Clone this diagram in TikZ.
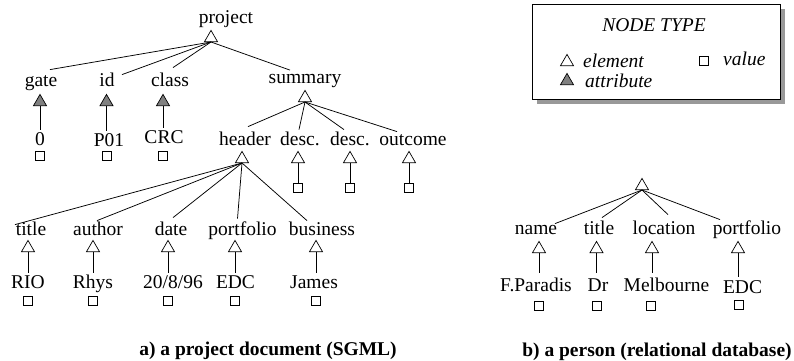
\documentclass[tikz,border=0pt]{standalone}
\usepackage{fontspec}
\setmainfont{Liberation Serif}
\usetikzlibrary{shapes.geometric,shadows}
\newcommand\fsz{\fontsize{19.5}{22}\selectfont}
\begin{document}
\begin{tikzpicture}[x=1pt,y=-1pt,
  every node/.style={font=\fsz},
  lbl/.style={anchor=base, inner sep=1.5pt, text height=13.7pt, text depth=4pt},
  itl/.style={anchor=base west, inner sep=0pt, font=\fsz\itshape},
  tri/.style={regular polygon, regular polygon sides=3, draw, minimum size=15pt, inner sep=0pt, anchor=south, line width=0.7pt},
  eltri/.style={tri, fill=white},
  attri/.style={tri, fill=black!50},
  valsq/.style={draw, rectangle, minimum size=9pt, inner sep=0pt, line width=0.7pt},
  edge/.style={line width=0.75pt},
  captxt/.style={anchor=base, inner sep=0pt, font=\fsz\bfseries},
]
\useasboundingbox (0,0) rectangle (794,360);

% ---------------- a) project document ----------------
\node[lbl] (project) at (226,23) {project};
\node[eltri] (tproject) at (211,42) {};

\node[lbl] (gate) at (41,86) {gate};
\node[attri] (tgate) at (40,106) {};
\node[lbl] (vgate) at (40,145) {0};
\node[valsq] (sgate) at (40,156) {};

\node[lbl] (id) at (107,86) {id};
\node[attri] (tid) at (106.5,106) {};
\node[lbl] (vid) at (109,146) {P01};
\node[valsq] (sid) at (107,156) {};

\node[lbl] (class) at (170,86) {class};
\node[attri] (tclass) at (163,106) {};
\node[lbl] (vclass) at (164,143.5) {CRC};
\node[valsq] (sclass) at (163,156) {};

\node[lbl] (summary) at (305,83.5) {summary};
\node[eltri] (tsummary) at (305,102) {};

\node[lbl] (header) at (245,145) {header};
\node[eltri] (theader) at (242,163) {};
\node[lbl] (desca) at (300,145) {desc.};
\node[eltri] (tdesca) at (298,163) {};
\node[valsq] (sdesca) at (298,188) {};
\node[lbl] (descb) at (350,145) {desc.};
\node[eltri] (tdescb) at (350,163) {};
\node[valsq] (sdescb) at (350,188) {};
\node[lbl] (outcome) at (413,145) {outcome};
\node[eltri] (toutcome) at (409,163) {};
\node[valsq] (soutcome) at (409,188) {};

\node[lbl] (title) at (31,235) {title};
\node[eltri] (ttitle) at (28,252) {};
\node[lbl] (vtitle) at (28,288) {RIO};
\node[valsq] (stitle) at (28,301) {};

\node[lbl] (author) at (98,235) {author};
\node[eltri] (tauthor) at (93,252) {};
\node[lbl] (vauthor) at (93,288) {Rhys};
\node[valsq] (sauthor) at (93,301) {};

\node[lbl] (date) at (171,235) {date};
\node[eltri] (tdate) at (168,252) {};
\node[lbl] (vdate) at (173,288) {20/8/96};
\node[valsq] (sdate) at (168,301) {};

\node[lbl] (portfolio) at (242.5,235) {portfolio};
\node[eltri] (tportfolio) at (235,252) {};
\node[lbl] (vportfolio) at (235.5,288) {EDC};
\node[valsq] (sportfolio) at (235,301) {};

\node[lbl] (business) at (322,235) {business};
\node[eltri] (tbusiness) at (316,252) {};
\node[lbl] (vbusiness) at (314,288) {James};
\node[valsq] (sbusiness) at (316,301) {};

% edges a)
\draw[edge] (tproject.south) -- ([xshift=9pt,yshift=1pt]gate.north);
\draw[edge] (tproject.south) -- ([xshift=15pt,yshift=-4pt]id.north);
\draw[edge] (tproject.south) -- ([xshift=3pt,yshift=3pt]class.north);
\draw[edge] (tproject.south) -- ([xshift=-15pt,yshift=-2pt]summary.north);

\draw[edge] (tgate.south) -- (tgate.south |- vgate.north);
\draw[edge] (tid.south) -- (tid.south |- vid.north);
\draw[edge] (tclass.south) -- (tclass.south |- vclass.north);

\draw[edge] (tsummary.south) -- ([xshift=3pt,yshift=3pt]header.north);
\draw[edge] (tsummary.south) -- ([xshift=-1pt]desca.north);
\draw[edge] (tsummary.south) -- ([xshift=-6pt]descb.north);
\draw[edge] (tsummary.south) -- ([xshift=-16pt,yshift=-2pt]outcome.north);

\draw[edge] (tdesca.south) -- (sdesca.north);
\draw[edge] (tdescb.south) -- (sdescb.north);
\draw[edge] (toutcome.south) -- (soutcome.north);

\draw[edge] (theader.south) -- ([xshift=-16pt,yshift=-5pt]title.north);
\draw[edge] (theader.south) -- ([xshift=-1pt,yshift=-1pt]author.north);
\draw[edge] (theader.south) -- ([xshift=2pt,yshift=2pt]date.north);
\draw[edge] (theader.south) -- ([xshift=-5pt,yshift=1pt]portfolio.north);
\draw[edge] (theader.south) -- ([xshift=-15pt,yshift=-1pt]business.north);

\draw[edge] (ttitle.south) -- (ttitle.south |- vtitle.north);
\draw[edge] (tauthor.south) -- (tauthor.south |- vauthor.north);
\draw[edge] (tdate.south) -- (tdate.south |- vdate.north);
\draw[edge] (tportfolio.south) -- (tportfolio.south |- vportfolio.north);
\draw[edge] (tbusiness.south) -- (tbusiness.south |- vbusiness.north);

\node[captxt] (capa) at (268,355) {a) a project document (SGML)};

% ---------------- b) person ----------------
\node[eltri] (troot) at (642,190) {};

\node[lbl] (name) at (536,234) {name};
\node[eltri] (tname) at (539,253) {};
\node[lbl] (vname) at (536,291) {F.Paradis};
\node[valsq] (sname) at (539,306) {};

\node[lbl] (ptitle) at (599,234) {title};
\node[eltri] (tptitle) at (596.5,253) {};
\node[lbl] (vptitle) at (598,291) {Dr};
\node[valsq] (sptitle) at (596.5,306) {};

\node[lbl] (location) at (664,234) {location};
\node[eltri] (tlocation) at (652,253) {};
\node[lbl] (vlocation) at (666.5,291) {Melbourne};
\node[valsq] (slocation) at (651,306) {};

\node[lbl] (pportfolio) at (747,234) {portfolio};
\node[eltri] (tpportfolio) at (738,253) {};
\node[lbl] (vpportfolio) at (742.5,293) {EDC};
\node[valsq] (spportfolio) at (739,305) {};

\draw[edge] (troot.south) -- ([xshift=19pt,yshift=-5pt]name.north);
\draw[edge] (troot.south) -- ([xshift=3pt,yshift=1pt]ptitle.north);
\draw[edge] (troot.south) -- ([xshift=4pt,yshift=4pt]location.north);
\draw[edge] (troot.south) -- ([xshift=-27pt,yshift=-1pt]pportfolio.north);

\draw[edge] (tname.south) -- ([yshift=3pt]tname.south |- vname.north);
\draw[edge] (tptitle.south) -- ([yshift=3pt]tptitle.south |- vptitle.north);
\draw[edge] (tlocation.south) -- ([yshift=3pt]tlocation.south |- vlocation.north);
\draw[edge] (tpportfolio.south) -- ([yshift=1pt]tpportfolio.south |- vpportfolio.north);

\node[captxt] (capb) at (657,356) {b) a person (relational database)};

% ---------------- legend ----------------
\node[draw, fill=white, line width=0.7pt, minimum width=248pt, minimum height=95pt, inner sep=0pt,
      drop shadow={shadow xshift=5pt, shadow yshift=-5pt, fill=black!40, opacity=1}]
      (legend) at (656,51.5) {};
\node[anchor=base, inner sep=0pt, font=\fsz\itshape] (ltitle) at (654,31) {NODE TYPE};
\node[eltri] (lel) at (567,66) {};
\node[itl] (lelt) at (583,67) {element};
\node[attri] (lat) at (567,85) {};
\node[itl] (latt) at (585,87) {attribute};
\node[valsq] (lval) at (704,61) {};
\node[itl] (lvalt) at (723,65) {value};
\end{tikzpicture}
\end{document}
